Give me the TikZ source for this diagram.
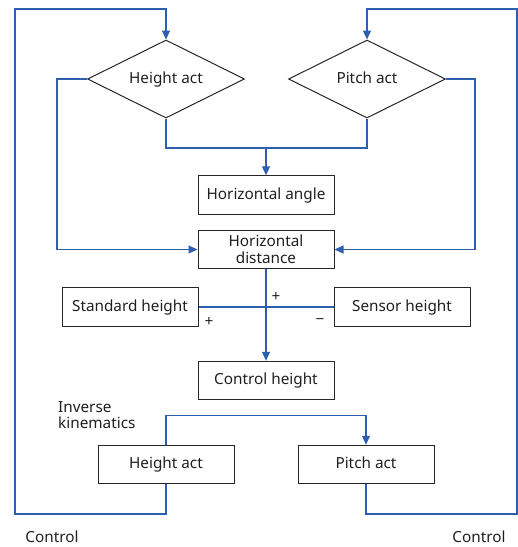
\documentclass[tikz,border=0pt]{standalone}
\usepackage{fontspec}
\setmainfont{Noto Sans}
\usetikzlibrary{shapes.geometric,arrows.meta}
\definecolor{flowblue}{RGB}{46,94,174}
\begin{document}
\begin{tikzpicture}[x=1pt,y=-1pt,
  every node/.style={font=\fontsize{15.3}{16.5}\selectfont, text=black!88},
  box/.style={draw=black!85, line width=1pt, minimum width=136pt, minimum height=38.5pt, inner sep=0pt, align=center},
  onel/.style={text height=10.5pt, text depth=2.5pt},
  dia/.style={draw=black!85, line width=1pt, diamond, aspect=2, minimum width=157pt, minimum height=78pt, inner sep=0pt, text height=10.5pt, text depth=2.5pt},
  flow/.style={draw=flowblue, line width=1.2pt},
  arr/.style={flow, -{Triangle[length=9pt,width=8pt]}},
  lbl/.style={inner sep=0pt}]
\useasboundingbox (0,0) rectangle (518,547);
% nodes
\node[dia] (d1) at (166,79) {Height act};
\node[dia] (d2) at (367,79) {Pitch act};
\node[box,onel] (hang) at (266,195) {Horizontal angle};
\node[box] (hd) at (266,249.5) {Horizontal\\distance};
\node[box,onel] (sh) at (130,307) {Standard height};
\node[box,onel] (sen) at (402,307) {Sensor height};
\node[box,onel] (ch) at (266,380.5) {Control height};
\node[box,onel] (ha) at (166,464.5) {Height act};
\node[box,onel] (pa) at (366,464.5) {Pitch act};
\node[lbl, anchor=west, align=left] (ik) at (58,415) {Inverse\\kinematics};
\node[lbl] (p1) at (276,297) {+};
\node[lbl] (p2) at (209,322) {+};
\node[lbl] (m1) at (320,322) {−};
\node[lbl] (c1) at (52,537) {Control};
\node[lbl] (c2) at (479,537) {Control};
% coordinates
\coordinate (lb) at (15,514);
\coordinate (lt) at (15,9);
\coordinate (rb) at (517,514);
\coordinate (rt) at (517,9);
\coordinate (j) at (266,148);
% connectors
\draw[flow] (d1.south) |- (j) -| (d2.south);
\draw[arr] (j) -- (hang.north);
\draw[arr] (d1.west) -- ++(-30,0) |- (hd.west);
\draw[arr] (d2.east) -- ++(29,0) |- (hd.east);
\draw[flow] (sh.east) -- (sen.west);
\draw[arr] (hd.south) -- (ch.north);
\draw[arr] (ha.north) -- ++(0,-29) -| (pa.north);
\draw[arr] (ha.south) |- (lb) -- (lt) -| (d1.north);
\draw[arr] (pa.south) |- (rb) -- (rt) -| (d2.north);
\end{tikzpicture}
\end{document}
